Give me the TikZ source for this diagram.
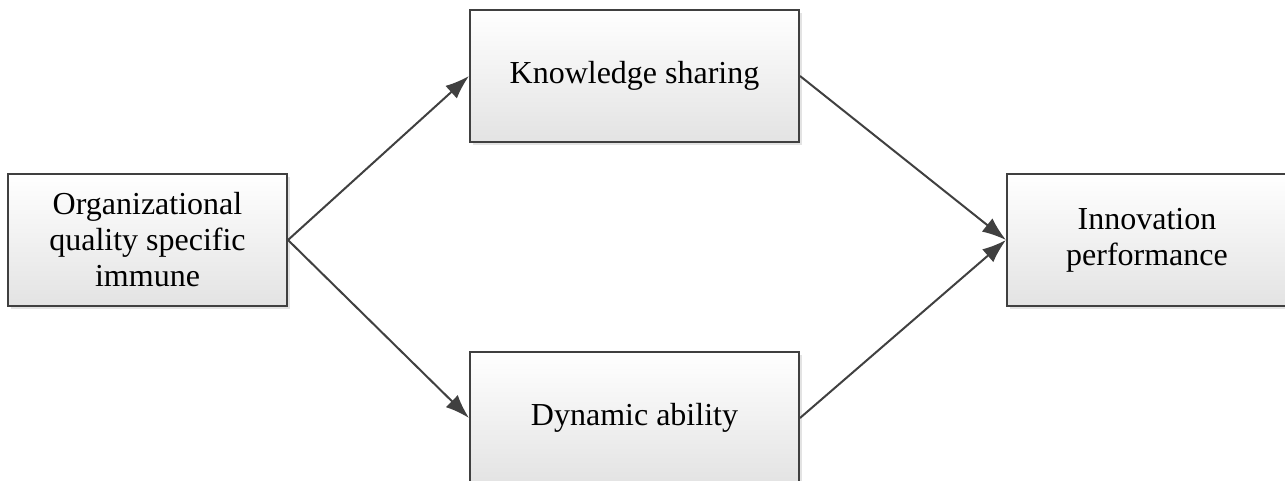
\documentclass[tikz,border=0pt]{standalone}
\usepackage{fontspec}
\setmainfont{Liberation Serif}
\usetikzlibrary{arrows.meta,shadows}
\definecolor{edge}{HTML}{404040}
\begin{document}
\begin{tikzpicture}[x=1pt,y=-1pt,
  box/.style={draw=edge,line width=2pt,top color=white,bottom color=black!11,
    drop shadow={shadow xshift=3pt,shadow yshift=-3pt,fill=black!18,opacity=0.6},
    inner sep=0pt,minimum height=132pt,align=center,
    font=\fontsize{32}{36}\selectfont},
  link/.style={draw=edge,line width=2pt,-{Latex[length=24pt,width=17pt]}}]
\useasboundingbox (0,0) rectangle (1285,481);
\node[box,minimum width=279pt] (org) at (147.5,240) {Organizational\\quality specific\\immune};
\node[box,minimum width=329pt] (ks) at (634.5,76) {Knowledge sharing};
\node[box,minimum width=329pt] (da) at (634.5,418) {Dynamic ability};
\node[box,minimum width=280pt] (ip) at (1147,240) {Innovation\\performance};
\draw[link] (org.east) -- (ks.west);
\draw[link] (org.east) -- (da.west);
\draw[link] (ks.east) -- (ip.west);
\draw[link] (da.east) -- (ip.west);
\end{tikzpicture}
\end{document}
